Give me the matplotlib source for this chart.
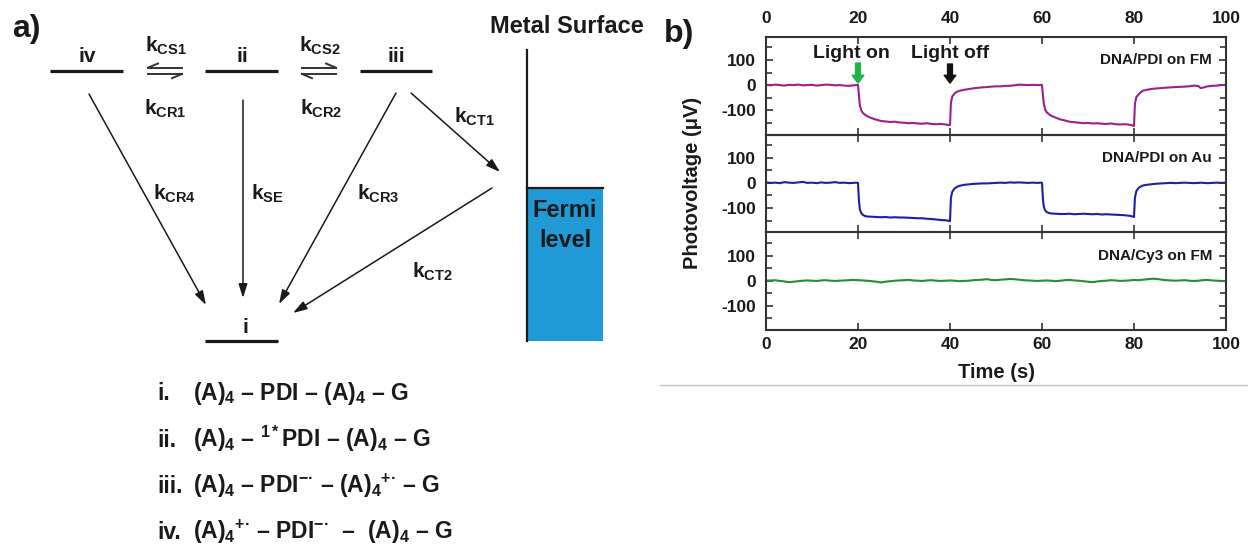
import numpy as np
import matplotlib.pyplot as plt
from matplotlib.patches import Rectangle

plt.rcParams['font.family'] = ['Liberation Sans', 'DejaVu Sans']
plt.rcParams['font.weight'] = 'bold'
plt.rcParams['axes.labelweight'] = 'bold'
plt.rcParams['axes.unicode_minus'] = False
plt.rcParams['mathtext.fontset'] = 'custom'
plt.rcParams['mathtext.rm'] = 'Liberation Sans:bold'
plt.rcParams['mathtext.bf'] = 'Liberation Sans:bold'
plt.rcParams['mathtext.it'] = 'Liberation Sans:bold'
plt.rcParams['mathtext.sf'] = 'Liberation Sans:bold'
plt.rcParams['mathtext.default'] = 'rm'

# ---- panel b data: photovoltage traces (uV) ----
# sample times (s): 1 s steps, denser around the light on/off switches
t_steps = [*range(0, 20), 19.5, 20, 20.2, 20.4, 20.7, 21, 21.5, 22,
           *range(23, 40), 39.7, 40, 40.2, 40.5, 41, 41.5, 42,
           *range(43, 60), 59.7, 60, 60.2, 60.4, 60.7, 61, 61.5, 62,
           *range(63, 80), 79.7, 80, 80.2, 80.5, 81, 81.5, 82,
           *range(83, 95), 94.5, *range(95, 101)]

pdi_fm = [1, -1, 2, 0, -2, 1, 0, 2, -1, 0, 1, -2, 0, 2, 1, -1, 0, -2, -3, -1,
          0, 1, -40, -80, -100, -110, -118, -124,
          -132, -138, -143, -145, -147, -146, -149, -150, -152, -151, -153, -154, -152, -155, -156, -155, -157,
          -159, -160, -70, -45, -33, -27, -23,
          -19, -16, -13, -11, -9, -8, -6, -5, -5, -3, -3, -1, 2, 1, 0, 1, 0,
          0, 1, -40, -75, -98, -108, -116, -122,
          -130, -137, -141, -146, -148, -150, -152, -151, -153, -152, -154, -155, -153, -156, -157, -156, -158,
          -161, -163, -75, -48, -37, -28, -22,
          -18, -15, -13, -12, -10, -9, -8, -7, -6, -5, -2, -4,
          -12,
          -10, -5, -3, -2, 0, 1]

pdi_au = [2, 0, 1, -1, 3, 1, 0, 2, 4, 0, 1, -1, 2, 0, 1, 3, 0, 1, -1, 0,
          1, 0, -70, -105, -120, -127, -132, -134,
          -135, -136, -137, -136, -138, -137, -138, -138, -139, -140, -141, -141, -143, -144, -146, -148, -149,
          -151, -153, -60, -35, -22, -16, -12,
          -8, -6, -4, -3, -2, -2, -1, 0, 1, 0, 2, 1, 2, 1, 0, 1, 0,
          1, 0, -65, -95, -110, -116, -120, -122,
          -123, -124, -124, -123, -125, -124, -123, -124, -125, -124, -126, -125, -126, -127, -128, -129, -131,
          -134, -136, -60, -33, -20, -14, -10,
          -7, -5, -3, -2, -1, 0, -1, 0, 1, 0, -1, 0,
          1,
          0, -1, 0, 1, 0, 1]

t_cy3 = list(range(0, 101))
cy3_fm = [0, 1, 2, -1, -3, -6, -4, -2, 0, 1,
          0, -1, 1, 2, 0, -1, 0, 1, 2, 3,
          2, 1, 0, -2, -4, -7, -4, -2, 0, 1,
          2, 3, 1, 0, -1, 1, 2, 0, -1, 0,
          1, 0, -2, -1, 0, 2, 3, 4, 6, 3,
          2, 4, 5, 7, 6, 4, 2, 1, 0, -1,
          0, 1, 0, -2, 0, 2, 3, 1, 0, -2,
          -4, -6, -3, -1, 0, 2, 1, -1, 0, 1,
          3, 2, 4, 6, 8, 7, 4, 2, 1, 0,
          1, 2, 0, -1, 0, 2, 3, 1, 0, -1,
          -2]

traces = [(t_steps, pdi_fm, '#98208f', 'DNA/PDI on FM'),
          (t_steps, pdi_au, '#1e20a3', 'DNA/PDI on Au'),
          (t_cy3, cy3_fm, '#23902a', 'DNA/Cy3 on FM')]

x_ticks = [0, 20, 40, 60, 80, 100]
y_ticks = [-100, 0, 100]
y_minor = [-150, -50, 50, 150]

# ---- panel a: scheme, in pixel units of the figure ----
levels = [(50, 123, 71), (205, 278, 71), (360, 432, 71), (205, 278, 341)]
level_names = [('iv', 87, 62), ('ii', 242, 62), ('iii', 396, 62), ('i', 245, 333)]
rates = [('k$_{CS1}$', 166, 52), ('k$_{CS2}$', 320, 52), ('k$_{CR1}$', 165, 115),
         ('k$_{CR2}$', 321, 115), ('k$_{CT1}$', 474, 123), ('k$_{CR4}$', 175, 200),
         ('k$_{SE}$', 267, 200), ('k$_{CR3}$', 378, 200), ('k$_{CT2}$', 432, 278)]
arrows = [((89, 94), (206, 305)), ((243, 100), (243, 298)), ((396, 93), (279, 304)),
          ((411, 93), (500, 172)), ((492, 188), (293, 313))]
species = [('i.', '(A)$_4$ – PDI – (A)$_4$ – G', 400),
           ('ii.', '(A)$_4$ – $^{1*}$PDI – (A)$_4$ – G', 447),
           ('iii.', '(A)$_4$ – PDI$^{-\u00b7}$ – (A)$_4{}^{+\u00b7}$ – G', 493),
           ('iv.', '(A)$_4{}^{+\u00b7}$ – PDI$^{-\u00b7}$  –  (A)$_4$ – G', 539)]

ink = '#1a1a1a'
fig = plt.figure(figsize=(12.48, 5.46), dpi=100)

ax0 = fig.add_axes([0, 0, 1, 1])
ax0.set_xlim(0, 1248)
ax0.set_ylim(546, 0)
ax0.axis('off')

ax0.text(12, 37, 'a)', fontsize=23, color=ink)
ax0.text(664, 42, 'b)', fontsize=23, color=ink)

for x0, x1, y in levels:
    ax0.plot([x0, x1], [y, y], color=ink, lw=2.3, solid_capstyle='butt')
for name, x, y in level_names:
    ax0.text(x, y, name, ha='center', va='baseline', fontsize=15, color=ink)
for label, x, y in rates:
    ax0.text(x, y, label, ha='center', va='baseline', fontsize=15, color=ink)

# equilibrium harpoons
for xa, xb, flip in [(148, 182, False), (302, 336, True)]:
    ax0.plot([xa, xb], [67.7, 67.7], color='#333333', lw=1.4)
    ax0.plot([xa, xb], [74, 74], color='#333333', lw=1.4)
    if not flip:
        ax0.plot([xa, xa + 10], [67.7, 63.5], color='#333333', lw=1.4)
        ax0.plot([xb, xb - 10], [74, 78.2], color='#333333', lw=1.4)
    else:
        ax0.plot([xb, xb - 10], [67.7, 63.5], color='#333333', lw=1.4)
        ax0.plot([xa, xa + 10], [74, 78.2], color='#333333', lw=1.4)

for start, end in arrows:
    ax0.annotate('', xy=end, xytext=start,
                 arrowprops=dict(arrowstyle='-|>,head_length=0.7,head_width=0.22',
                                 color=ink, lw=1.1, shrinkA=0, shrinkB=0,
                                 mutation_scale=12))

# metal surface with Fermi level
ax0.add_patch(Rectangle((527, 188), 76, 153, facecolor='#1f9ad6', edgecolor='none'))
ax0.plot([527, 527], [50, 341], color=ink, lw=1.6)
ax0.plot([527, 603], [188, 188], color=ink, lw=1.6)
ax0.text(567, 33, 'Metal Surface', ha='center', va='baseline', fontsize=17, color=ink)
ax0.text(565, 217, 'Fermi', ha='center', va='baseline', fontsize=17, color=ink)
ax0.text(565, 247, 'level', ha='center', va='baseline', fontsize=17, color=ink)

for num, formula, y in species:
    ax0.text(157, y, num, va='baseline', fontsize=16.5, color=ink)
    ax0.text(193, y, formula, va='baseline', fontsize=16.5, color=ink)

ax0.plot([660, 1248], [385, 385], color='#c8c8c8', lw=1)

# ---- panel b: stacked photovoltage traces ----
left, width = 766 / 1248, 460 / 1248
h = 97.8 / 546
bottoms = [1 - 36.7 / 546 - h, 1 - 36.7 / 546 - 2 * h, 1 - 36.7 / 546 - 3 * h]
axes = []
for i, (t, v, c, name) in enumerate(traces):
    ax = fig.add_axes([left, bottoms[i], width, h])
    ax.set_facecolor('none')
    ax.plot(t, v, color=c, lw=1.5)
    ax.set_xlim(0, 100)
    ax.set_ylim(-197, 193)
    ax.set_xticks(x_ticks)
    ax.set_yticks(y_ticks)
    ax.set_yticks(y_minor, minor=True)
    ax.tick_params(which='both', direction='in', top=True, right=True,
                   width=1.2, color='#333333', labelsize=12.5, labelcolor=ink)
    ax.tick_params(which='major', length=5)
    ax.tick_params(which='minor', length=4)
    ax.tick_params(axis='y', pad=7)
    ax.tick_params(axis='x', labelbottom=(i == 2), labeltop=(i == 0))
    ax.tick_params(axis='x', which='major', pad=7.5 if i == 0 else 5)
    for s in ax.spines.values():
        s.set_linewidth(1.5)
        s.set_color('#333333')
    ax.text(97, 100, name, ha='right', va='center', fontsize=11, color=ink)
    axes.append(ax)

ax1 = axes[0]
ax1.text(18.6, 128, 'Light on', ha='center', va='center', fontsize=14, color=ink)
ax1.text(40.0, 128, 'Light off', ha='center', va='center', fontsize=14, color=ink)
for x, col, y_top in [(20, '#22b14c', 88), (40, '#111111', 84)]:
    ax1.annotate('', xy=(x, 8), xytext=(x, y_top),
                 arrowprops=dict(arrowstyle='simple,head_length=0.8,head_width=1.2,tail_width=0.5',
                                 color=col, shrinkA=0, shrinkB=0, mutation_scale=7))

axes[2].set_xlabel('Time (s)', fontsize=14.5, labelpad=8, color=ink)
fig.text(693 / 1248, 1 - 183 / 546, 'Photovoltage (\u03bcV)', rotation=90,
         ha='center', va='center', fontsize=14.5, color=ink)

fig.savefig('out.png', dpi=100)
